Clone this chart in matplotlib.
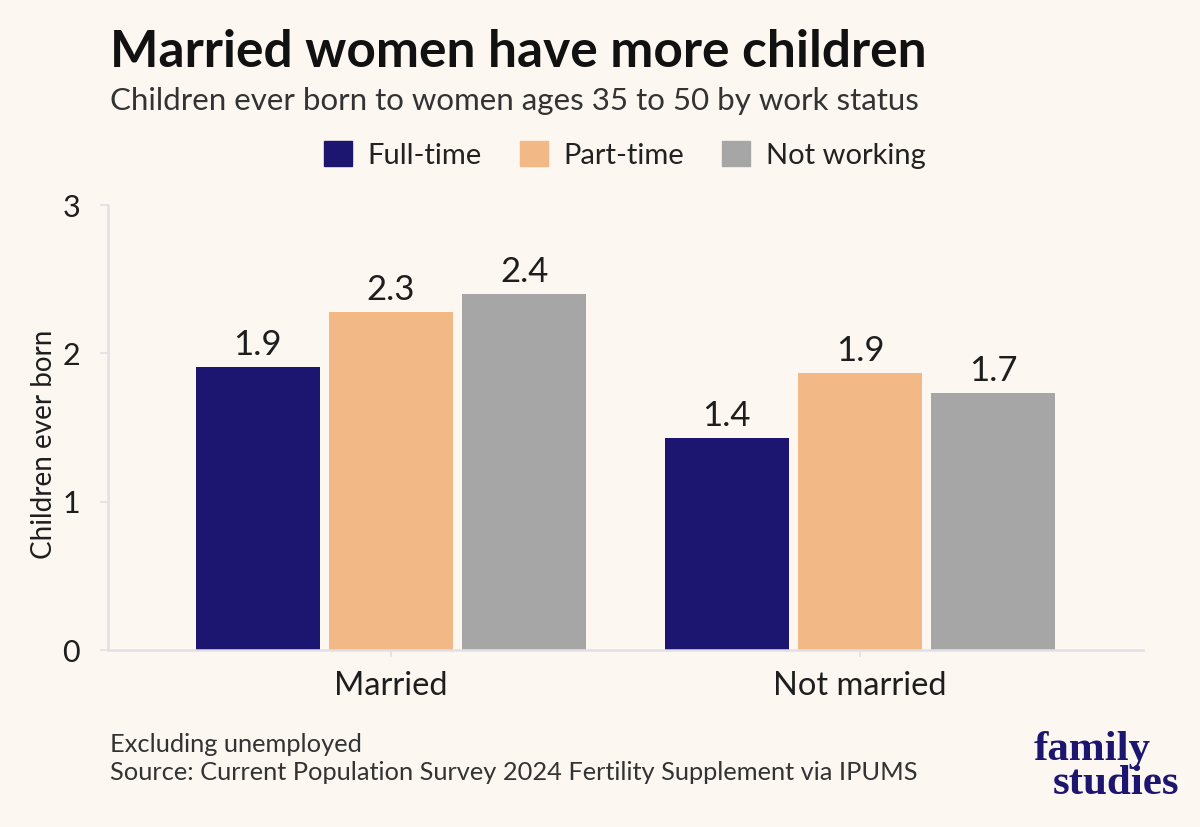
import matplotlib
matplotlib.use("Agg")
import matplotlib.pyplot as plt
import numpy as np

groups = ["Married", "Not married"]
series = ["Full-time", "Part-time", "Not working"]
full_time = [1.91, 1.43]
part_time = [2.28, 1.87]
not_working = [2.40, 1.73]
colors = ["#1c1670", "#f2b885", "#a6a6a6"]
yticks = [0, 1, 2, 3]

BG = "#fcf7f1"
TXT = "#1e1e1e"
plt.rcParams['font.family'] = ['Lato', 'DejaVu Sans']

fig = plt.figure(figsize=(12, 8.27), dpi=100, facecolor=BG)
ax = fig.add_axes([108/1200, 1-650/827, (1143-108)/1200, (650-205)/827])
ax.set_facecolor(BG)

x = np.arange(len(groups))
w = 0.264
step = 0.284
for i, (vals, c, name) in enumerate(zip([full_time, part_time, not_working], colors, series)):
    pos = x + (i-1)*step
    ax.bar(pos, vals, width=w, color=c, label=name, zorder=2)
    for p, v in zip(pos, vals):
        ax.text(p, v + 0.04, f"{v:.1f}", ha="center", va="bottom", fontsize=25, color=TXT)

ax.set_xlim(-0.603, 1.603)
ax.set_ylim(0, 3)
ax.set_yticks(yticks)
ax.set_yticklabels([str(t) for t in yticks], fontsize=22, color=TXT)
ax.set_xticks(x)
ax.set_xticklabels(groups, fontsize=23.5, color=TXT)
for s in ["top", "right"]:
    ax.spines[s].set_visible(False)
for s in ["left", "bottom"]:
    ax.spines[s].set_color("#e2e0e6")
    ax.spines[s].set_linewidth(1.8)
ax.tick_params(axis="y", length=6, width=1.2, color="#e2e0e6", pad=14)
ax.tick_params(axis="x", length=5, width=1.2, color="#e2e0e6", pad=10)
ax.set_ylabel("Children ever born", fontsize=20, color=TXT)
ax.yaxis.set_label_coords(-0.049, 0.463)

fig.text(110/1200, 1-67/827, "Married women have more children", fontsize=37, fontweight="bold", color="#111111", va="baseline")
fig.text(110/1200, 1-110/827, "Children ever born to women ages 35 to 50 by work status", fontsize=22.5, color="#333333", va="baseline")

handles = [plt.Rectangle((0, 0), 1, 1, color=c) for c in colors]
fig.legend(handles, series, loc="center", bbox_to_anchor=(625/1200, 1-155/827), ncol=3, frameon=False,
           fontsize=21, handlelength=0.95, handleheight=0.95, columnspacing=1.3, handletextpad=0.55,
           labelcolor="#222222")

fig.text(110/1200, 1-752/827, "Excluding unemployed", fontsize=18.3, color="#333333", va="baseline")
fig.text(110/1200, 1-780/827, "Source: Current Population Survey 2024 Fertility Supplement via IPUMS", fontsize=18.3, color="#333333", va="baseline")

fig.text(1092/1200, 1-760/827, "family", fontsize=31, fontweight="bold", family="Liberation Serif", color="#1c1670", ha="center", va="baseline")
fig.text(1116/1200, 1-794/827, "studies", fontsize=31, fontweight="bold", family="Liberation Serif", color="#1c1670", ha="center", va="baseline")

fig.savefig("out.png", dpi=100, facecolor=BG)
